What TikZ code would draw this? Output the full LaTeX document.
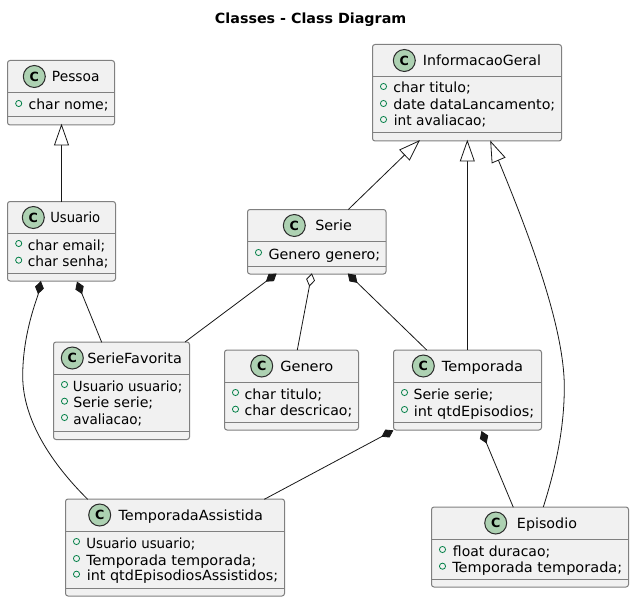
\documentclass[tikz,border=0pt]{standalone}
\usepackage{graphicx}
\usepackage{fontspec}
\setmainfont{DejaVu Sans}
\usetikzlibrary{calc}
\definecolor{boxfill}{HTML}{F1F1F1}
\definecolor{boxline}{HTML}{808080}
\definecolor{spotfill}{HTML}{ADD1B2}
\definecolor{spotline}{HTML}{2B2B2B}
\definecolor{attrgreen}{HTML}{038048}
\definecolor{edgecol}{HTML}{181818}
\tikzset{
  pic1/.style={x=0.75pt,y=-0.75pt},
  classbox/.style={draw=boxline,fill=boxfill,line width=0.75pt,rounded corners=1.9pt,inner sep=0pt,outer sep=0pt},
  spot/.style={circle,draw=spotline,fill=spotfill,line width=0.75pt,minimum size=16.5pt,inner sep=0pt,font=\fontsize{9.5}{10}\selectfont\bfseries},
  classname/.style={anchor=base west,inner sep=0pt,font=\fontsize{10.5}{12}\selectfont},
  attr/.style={anchor=base west,inner sep=0pt,font=\fontsize{10.5}{12}\selectfont},
  vis/.style={circle,draw=attrgreen,line width=0.6pt,minimum size=4.6pt,inner sep=0pt},
  sepline/.style={draw=boxline,line width=0.75pt},
  rel/.style={draw=edgecol,line width=0.6pt},
  hollowtip/.style={draw=edgecol,fill=white,line width=0.6pt,line join=miter},
  solidtip/.style={draw=edgecol,fill=edgecol,line width=0.6pt,line join=miter},
}
% #1 name, #2 left, #3 top, #4 right, #5 bottom, #6 header line y, #7 sep y, #8 spot x
\newcommand{\umlbox}[8]{%
  \node[classbox,minimum width=#4*0.75pt-#2*0.75pt,minimum height=#5*0.75pt-#3*0.75pt,anchor=north west] (#1) at (#2,#3) {};
  \draw[sepline] (#1.north west |- 0,#6) -- (#1.north east |- 0,#6);
  \draw[sepline] (#1.north west |- 0,#7) -- (#1.north east |- 0,#7);
  \node[spot] (#1spot) at (#8,#3+16) {C};
}
% #1 name, #2 start x, #3 baseline y, #4 end x
\newcommand{\umlname}[4]{%
  \node[classname] (#1name) at (#2,#3) {\resizebox{\dimexpr #4pt*3/4-#2pt*3/4\relax}{\height}{#1}};
}
% #1 id, #2 x of circle, #3 baseline y, #4 text x, #5 end x, #6 text
\newcommand{\umlattr}[6]{%
  \node[vis] (#1v) at (#2,#3-6.5) {};
  \node[attr] (#1t) at (#4,#3) {\resizebox{\dimexpr #5pt*3/4-#4pt*3/4\relax}{\height}{#6}};
}
% arrow heads: tip at #1, #2 = direction (deg, y down) from the tip along the line
\newcommand{\triangletip}[2]{%
  \draw[hollowtip] (#1) -- ($(#1)+(#2+19.3:21.2)$) -- ($(#1)+(#2-19.3:21.2)$) -- cycle;
}
\newcommand{\soliddiamond}[2]{%
  \draw[solidtip] (#1) -- ($(#1)+(#2+33.7:7.2)$) -- ($(#1)+(#2:12)$) -- ($(#1)+(#2-33.7:7.2)$) -- cycle;
}
\newcommand{\hollowdiamond}[2]{%
  \draw[hollowtip] (#1) -- ($(#1)+(#2+33.7:7.2)$) -- ($(#1)+(#2:12)$) -- ($(#1)+(#2-33.7:7.2)$) -- cycle;
}
\begin{document}
\begin{tikzpicture}[pic1]
\useasboundingbox (0,0) rectangle (634,602);
\fill[white] (0,0) rectangle (634,602);
\node[font=\fontsize{10.5}{12}\selectfont\bfseries,anchor=base west,inner sep=0pt] (title) at (214.7,23.3) {\resizebox{143.5pt}{\height}{Classes - Class Diagram}};

\umlbox{Pessoa}{7.5}{60.5}{114.5}{125}{92.5}{117}{34.3}
\umlname{Pessoa}{51.7}{81.7}{99.3}
\umlattr{p1}{18.7}{110}{28.3}{108.3}{char nome;}

\umlbox{Usuario}{7.5}{201.5}{115.5}{281}{233.5}{273}{33.3}
\umlname{Usuario}{50}{222.7}{100}
\umlattr{u1}{18.7}{250}{27.5}{105}{char email;}
\umlattr{u2}{18.7}{266.7}{27.5}{108.3}{char senha;}

\umlbox{InformacaoGeral}{372.5}{44.5}{561.5}{141}{76.5}{133}{404.3}
\umlname{InformacaoGeral}{422.7}{65.7}{540.7}
\umlattr{i1}{383.5}{93}{393}{470.7}{char titulo;}
\umlattr{i2}{383.5}{110}{393}{555}{date dataLancamento;}
\umlattr{i3}{383.5}{126}{393.5}{486}{int avaliacao;}

\umlbox{Serie}{247.5}{209.5}{386}{274}{241.5}{266}{294.3}
\umlname{Serie}{315}{230.7}{351.7}
\umlattr{s1}{258.5}{259}{268.3}{380}{Genero genero;}

\umlbox{SerieFavorita}{53.5}{342}{189.5}{439.5}{374}{431}{72.3}
\umlname{SerieFavorita}{87}{363.2}{181.7}
\umlattr{f1}{64.5}{391}{72.7}{182}{Usuario usuario;}
\umlattr{f2}{64.5}{407.7}{73}{153}{Serie serie;}
\umlattr{f3}{64.5}{424}{73}{142}{avaliacao;}

\umlbox{Genero}{224.5}{350}{358.5}{430}{382}{422}{261.7}
\umlname{Genero}{280}{371.2}{333}
\umlattr{g1}{235.5}{399}{244.3}{322}{char titulo;}
\umlattr{g2}{235.5}{415.7}{244.3}{352}{char descricao;}

\umlbox{Temporada}{393.5}{350}{541.5}{430}{382}{422}{423.3}
\umlname{Temporada}{441.7}{371.2}{522.7}
\umlattr{t1}{404.5}{399}{413.3}{493}{Serie serie;}
\umlattr{t2}{404.5}{416}{413.5}{534}{int qtdEpisodios;}

\umlbox{TemporadaAssistida}{65.5}{499}{284.5}{596}{531}{588}{99.7}
\umlname{TemporadaAssistida}{118.3}{520.2}{262.7}
\umlattr{a1}{76.5}{548}{86}{195}{Usuario usuario;}
\umlattr{a2}{76.5}{565}{86}{256}{Temporada temporada;}
\umlattr{a3}{76.5}{580.7}{86.5}{278}{int qtdEpisodiosAssistidos;}

\umlbox{Episodio}{431.5}{507}{628.5}{587}{539}{579}{495.7}
\umlname{Episodio}{516.7}{528.2}{576.7}
\umlattr{e1}{442.5}{556}{452.7}{550}{float duracao;}
\umlattr{e2}{442.5}{572.7}{452}{622}{Temporada temporada;}

% connectors
\coordinate (tipP) at ($(Pessoa.south west)+(54,0)$);
\draw[rel] (tipP) -- ($(Usuario.north west)+(54,0)$);
\triangletip{tipP}{90}

\coordinate (tipIS) at ($(InformacaoGeral.south west)+(46.5,0)$);
\draw[rel] (tipIS) -- ($(Serie.north west)+(100.8,0)$);
\triangletip{tipIS}{136}

\coordinate (tipIT) at ($(InformacaoGeral.south west)+(94.8,0)$);
\draw[rel] (tipIT) -- ($(Temporada.north west)+(73.8,0)$);
\triangletip{tipIT}{90}

\coordinate (tipIE) at ($(InformacaoGeral.south west)+(118.2,0.7)$);
\draw[rel] (tipIE) .. controls (520,212) and (564.3,320) .. (564.3,387) .. controls (564.3,430) and (555,470) .. ($(Episodio.north west)+(111.8,0)$);
\triangletip{tipIE}{67}

\coordinate (tipSF) at ($(Serie.south west)+(28.5,0)$);
\draw[rel] (tipSF) -- ($(SerieFavorita.north west)+(131.5,0)$);
\soliddiamond{tipSF}{143}

\coordinate (tipSG) at ($(Serie.south west)+(64.2,0)$);
\draw[rel] (tipSG) -- ($(Genero.north west)+(72.8,0)$);
\hollowdiamond{tipSG}{100.7}

\coordinate (tipST) at ($(Serie.south west)+(100.8,0)$);
\draw[rel] (tipST) -- ($(Temporada.north west)+(33.2,0)$);
\soliddiamond{tipST}{44.4}

\coordinate (tipUF) at ($(Usuario.south west)+(69.8,1.3)$);
\draw[rel] (tipUF) -- ($(SerieFavorita.north west)+(48.2,0.3)$);
\soliddiamond{tipUF}{67.9}

\coordinate (tipUA) at ($(Usuario.south west)+(33.2,0.7)$);
\draw[rel] (tipUA) -- (38,295) .. controls (28,323) and (22.7,350) .. (22.7,376) .. controls (22.7,420) and (52,464) .. ($(TemporadaAssistida.north west)+(22.2,0.3)$);
\soliddiamond{tipUA}{102}

\coordinate (tipTA) at ($(Temporada.south west)+(-0.8,0.7)$);
\draw[rel] (tipTA) -- ($(TemporadaAssistida.north west)+(198.8,0.3)$);
\soliddiamond{tipTA}{151.9}

\coordinate (tipTE) at ($(Temporada.south west)+(88.2,1.7)$);
\draw[rel] (tipTE) -- ($(Episodio.north west)+(81.8,0.3)$);
\soliddiamond{tipTE}{67.3}
\end{tikzpicture}
\end{document}
